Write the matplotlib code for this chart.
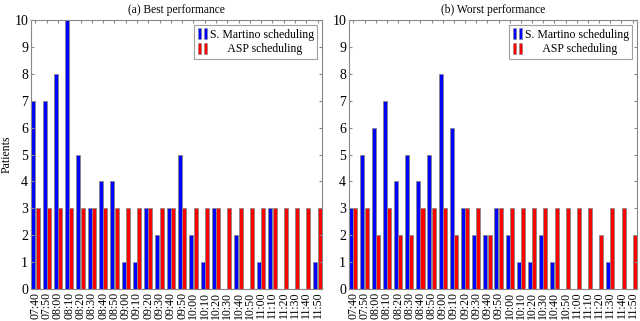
import numpy as np
import matplotlib
matplotlib.use('Agg')
import matplotlib.pyplot as plt
from matplotlib.patches import Rectangle
from matplotlib.legend_handler import HandlerTuple

plt.rcParams['font.family'] = ['Liberation Serif', 'DejaVu Serif']

#%% data
times = ['07:40', '07:50', '08:00', '08:10', '08:20', '08:30', '08:40', '08:50',
         '09:00', '09:10', '09:20', '09:30', '09:40', '09:50', '10:00', '10:10',
         '10:20', '10:30', '10:40', '10:50', '11:00', '11:10', '11:20', '11:30',
         '11:40', '11:50']

best_martino = [7, 7, 8, 10, 5, 3, 4, 4, 1, 1, 3, 2, 3, 5, 2, 1, 3, 0, 2, 0, 1, 3, 0, 0, 0, 1]
best_asp = [3] * 26

worst_martino = [3, 5, 6, 7, 4, 5, 4, 5, 8, 6, 3, 2, 2, 3, 2, 1, 1, 2, 1, 0, 0, 0, 0, 1, 0, 0]
worst_asp = [3, 3, 2, 3, 2, 2, 3, 3, 3, 2, 3, 3, 2, 3, 3, 3, 3, 3, 3, 3, 3, 3, 2, 3, 3, 2]

blue = '#0000ff'
red = '#ff0000'
edge = '#888888'

#%%
fig = plt.figure(figsize=(6.4, 3.21), dpi=100)
ax_a = fig.add_axes([31/640, 1-289/321, 291/640, 269/321])
ax_b = fig.add_axes([349/640, 1-289/321, 288/640, 269/321])

x = np.arange(len(times))
w = 0.36
off = 0.19


def draw_panel(ax, martino, asp, title):
    ax.bar(x - off, martino, w, color=blue, edgecolor=edge, linewidth=0.6)
    ax.bar(x + off, asp, w, color=red, edgecolor=edge, linewidth=0.6)
    ax.set_xlim(-off - w/2 - 0.02, len(times) - 1 + off + w/2 + 0.02)
    ax.set_ylim(0, 10)
    ax.set_yticks(range(0, 11))
    ax.set_xticks(x)
    ax.set_xticklabels(times, rotation=90, fontsize=8.5)
    ax.tick_params(axis='y', labelsize=10, pad=2)
    ax.tick_params(axis='x', pad=2)
    ax.tick_params(direction='in', length=2, color=edge, top=True, right=True, bottom=False)
    for s in ax.spines.values():
        s.set_color(edge)
        s.set_linewidth(0.8)
    ax.set_title(title, fontsize=8.3, pad=5)

    h1 = (Rectangle((0, 0), 1, 1, fc=blue, ec=edge, lw=0.4),
          Rectangle((0, 0), 1, 1, fc=blue, ec=edge, lw=0.4))
    h2 = (Rectangle((0, 0), 1, 1, fc=red, ec=edge, lw=0.4),
          Rectangle((0, 0), 1, 1, fc=red, ec=edge, lw=0.4))
    leg = ax.legend([h1, h2], ['S. Martino scheduling', '      ASP scheduling'],
                    handler_map={tuple: HandlerTuple(ndivide=2, pad=0.2)},
                    loc='upper right', fontsize=8.5, fancybox=False,
                    handlelength=0.8, handleheight=1.0, handletextpad=0.2,
                    borderpad=0.3, labelspacing=0.2, borderaxespad=0.4)
    leg.get_frame().set_edgecolor(edge)
    leg.get_frame().set_linewidth(0.8)


draw_panel(ax_a, best_martino, best_asp, '(a) Best performance')
draw_panel(ax_b, worst_martino, worst_asp, '(b) Worst performance')
ax_a.set_ylabel('Patients', fontsize=8.5, labelpad=1)

fig.savefig('out.png', dpi=100)
